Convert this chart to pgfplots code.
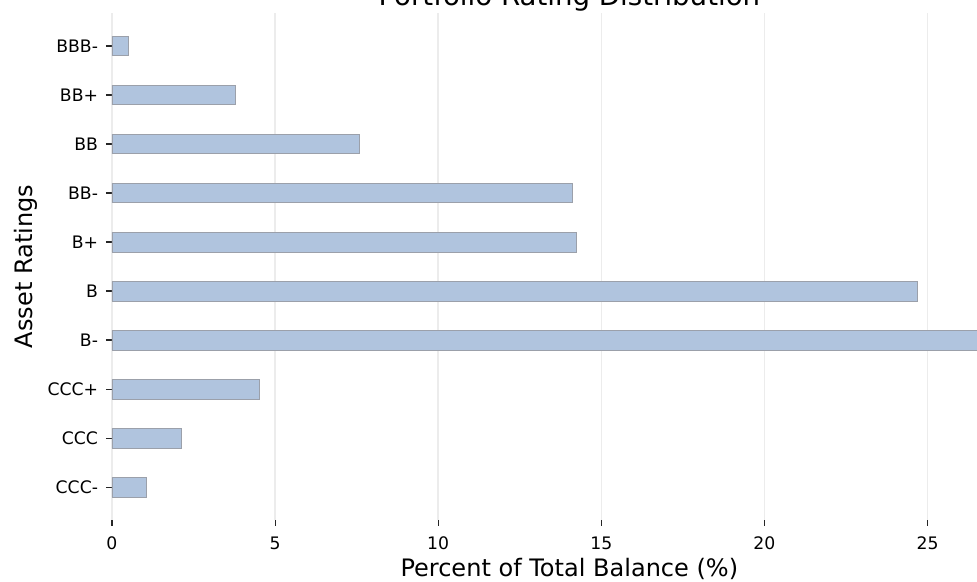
\documentclass[border=0pt]{standalone}
\usepackage{fontspec}
\setmainfont{DejaVu Sans}
\usepackage{pgfplots}
\pgfplotsset{compat=1.18}
\definecolor{barfill}{RGB}{176,196,222}
\definecolor{baredge}{RGB}{155,160,170}
\definecolor{gridc}{RGB}{236,236,236}
\begin{document}
\begin{tikzpicture}
\begin{axis}[
  scale only axis,
  width=658.6pt, height=364.8pt,
  anchor=south west, at={(0,0)},
  xmin=0, xmax=28.04,
  ymin=-0.67, ymax=9.67,
  xtick={0,5,10,15,20,25},
  ytick={0,1,2,3,4,5,6,7,8,9},
  yticklabels={CCC-,CCC,CCC+,B-,B,B+,BB-,BB,BB+,BBB-},
  xtick pos=bottom, ytick pos=left,
  tick align=outside,
  major tick length=4.3pt,
  tick style={black!85, line width=0.8pt},
  axis line style={draw=none},
  xmajorgrids=true,
  grid style={gridc, line width=1pt},
  /pgf/number format/assume math mode=true,
  ticklabel style={font=\fontsize{12.4}{14}\selectfont, text=black},
  xticklabel style={anchor=base, yshift=-16.8pt},
  yticklabel style={anchor=east, xshift=-2.2pt},
  xlabel={Percent of Total Balance (\%)},
  ylabel={Asset Ratings},
  xlabel style={font=\fontsize{17.3}{20}\selectfont, at={(axis description cs:0.5,0)}, anchor=base, yshift=-41pt},
  ylabel style={font=\fontsize{17.3}{20}\selectfont, at={(axis description cs:0,0.5)}, anchor=base, yshift=56.9pt},
  title={Portfolio Rating Distribution},
  title style={font=\fontsize{19.9}{23}\selectfont, at={(axis description cs:0.5,1)}, anchor=base, yshift=-0.6pt},
  xbar, bar width=0.4,
]
\addplot[fill=barfill, draw=baredge, line width=0.5pt] coordinates {
(1.06,0) (2.12,1) (4.51,2) (26.7,3) (24.69,4) (14.24,5) (14.12,6) (7.58,7) (3.77,8) (0.5,9)
};
\end{axis}
\pgfresetboundingbox
\path (-80.6pt,-44.1pt) rectangle (622.8pt,374.3pt);
\end{tikzpicture}
\end{document}
